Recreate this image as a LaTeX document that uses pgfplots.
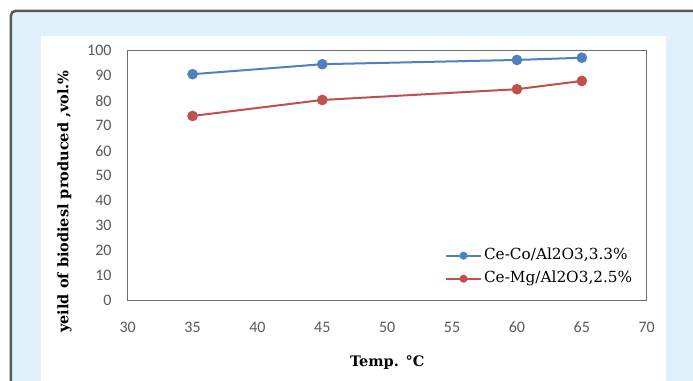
\documentclass[border=0pt]{standalone}
\usepackage{fontspec}
\setmainfont{DejaVu Serif}
\newfontfamily\tickfont{Carlito}
\usepackage{pgfplots}
\pgfplotsset{compat=1.18}
\definecolor{bgblue}{HTML}{E0F1FB}
\definecolor{framegray}{HTML}{5A5A5A}
\definecolor{axisgray}{HTML}{6E6E6E}
\definecolor{ticktext}{HTML}{595959}
\definecolor{sblue}{HTML}{4F81BD}
\definecolor{sred}{HTML}{C0504D}
\begin{document}
\begin{tikzpicture}
\begin{scope}
\clip (0,0) rectangle (693bp,-381bp);
\fill[white] (0,0) rectangle (693bp,-381bp);
\draw[line width=2.6bp, draw=framegray, fill=bgblue, rounded corners=5bp] (10.8bp,-10.8bp) rectangle (740bp,-440bp);
\fill[white] (41bp,-36bp) rectangle (665.7bp,-400bp);
\end{scope}
\begin{axis}[
  scale only axis,
  width=519bp, height=250bp,
  anchor=south west, at={(127.7bp,-300.7bp)},
  xmin=30, xmax=70, ymin=0, ymax=100,
  xtick={30,35,...,70}, ytick={0,10,...,100},
  major tick length=0pt,
  axis line style={draw=axisgray, line width=1.5bp},
  /pgf/number format/assume math mode=true,
  ticklabel style={font=\tickfont\fontsize{16bp}{16bp}\selectfont, text=ticktext},
  yticklabel style={anchor=east, inner sep=0pt, xshift=-16bp},
  xticklabel style={anchor=base, inner sep=0pt, yshift=-32bp},
  xlabel={Temp. °C},
  ylabel={yeild of biodiesl produced ,vol.\%},
  label style={font=\bfseries\fontsize{14.5bp}{14.5bp}\selectfont, inner sep=0pt},
  xlabel style={at={(axis description cs:0.5,-0.2612)}, anchor=base},
  ylabel style={at={(axis description cs:-0.1141,0.3968)}, anchor=base},
  legend style={draw=none, fill=none, at={(axis description cs:0.6114,0.134)}, anchor=west,
    inner sep=0pt, outer sep=0pt, row sep=8bp, column sep=2bp,
    font=\fontsize{15.3bp}{15.3bp}\selectfont,
    nodes={inner sep=0pt, text height=11.5bp, text depth=3.5bp}},
  legend cell align=left,
  legend image code/.code={\draw[#1, mark size=3.7bp, mark repeat=2, mark phase=2] plot coordinates {(0bp,0bp)(17.5bp,0bp)(35bp,0bp)};},
]
\addplot[color=sblue, line width=2bp, mark=*, mark size=5bp, mark options={fill=sblue, draw=sblue, line width=0.6bp}]
  coordinates {(35,90.6) (45,94.6) (60,96.3) (65,97.2)};
\addlegendentry{Ce-Co/Al2O3,3.3\%}
\addplot[color=sred, line width=2bp, mark=*, mark size=5bp, mark options={fill=sred, draw=sred, line width=0.6bp}]
  coordinates {(35,73.9) (45,80.3) (60,84.6) (65,87.9)};
\addlegendentry{Ce-Mg/Al2O3,2.5\%}
\end{axis}
\pgfresetboundingbox
\path[use as bounding box] (0,0) rectangle (693bp,-381bp);
\end{tikzpicture}
\end{document}
